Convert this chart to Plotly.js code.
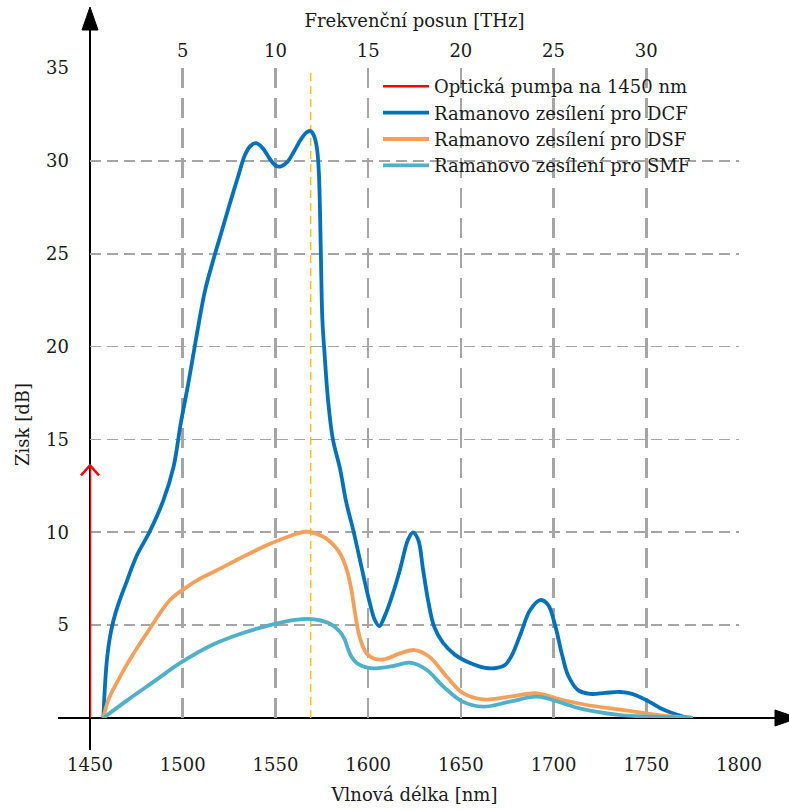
<!DOCTYPE html>
<html>
<head>
<meta charset="utf-8">
<script src="https://cdn.plot.ly/plotly-3.0.1.min.js"></script>
<style>html,body{margin:0;padding:0;background:#fff;}#chart{width:789px;height:811px;}</style>
</head>
<body>
<div id="chart"></div>
<script>
// ---- data ----
const dcfWl = [1457.2,1458,1459,1460.5,1462.5,1465.5,1470,1475,1482,1489.5,1495,1499,1503,1507,1512,1516.3,1521,1526,1530,1533.5,1536.5,1539.5,1543,1547,1550,1553,1556.5,1560,1564,1567,1569,1571,1572.5,1573.4,1574,1574.6,1575.3,1576.5,1578.4,1581,1585,1588,1592,1595.6,1600.5,1603.5,1606,1609,1613,1617.2,1621.5,1624.2,1627,1629.6,1632.3,1635.5,1640.4,1646.9,1655,1663,1669.5,1673.8,1677.6,1682,1687.3,1692.7,1697,1700.8,1704.6,1707.8,1713.2,1719.7,1727.8,1735.9,1742.3,1749.9,1757.4,1763.9,1770,1775];
const dcfGain = [0,1.6,3.0,4.2,5.2,6.2,7.4,8.7,10.0,11.7,13.5,15.9,18.0,20.3,23.0,24.6,26.2,27.9,29.2,30.3,30.8,30.95,30.7,30.1,29.75,29.7,29.95,30.5,31.2,31.55,31.6,31.3,30.6,29.4,27.5,24.5,21.5,19.6,17.1,15.0,13.35,11.7,10.1,8.5,6.35,5.3,4.95,5.5,6.6,8.0,9.6,10.0,9.6,8.0,6.35,4.95,4.04,3.4,2.96,2.7,2.7,2.85,3.4,4.47,5.8,6.35,6.1,5.0,3.4,2.3,1.5,1.3,1.35,1.4,1.3,0.97,0.54,0.27,0.08,0];

const dsfWl = [1457.2,1460,1465,1470,1480.6,1493.1,1500,1509.3,1517.4,1530.9,1544.4,1557.9,1566.5,1575.8,1581,1584.8,1588.4,1591,1593,1595.6,1599,1603,1608,1617.2,1625,1633,1642.4,1651,1662,1676.5,1691,1705,1718,1735.9,1750,1762,1775];
const dsfGain = [0,1.0,2.0,2.9,4.56,6.35,6.9,7.5,7.9,8.6,9.26,9.8,10.03,9.76,9.35,8.87,8.0,6.9,5.6,4.3,3.5,3.2,3.15,3.48,3.66,3.3,2.22,1.35,1.0,1.15,1.33,0.97,0.7,0.45,0.25,0.1,0];

const smfWl = [1457.2,1470,1485,1498.5,1515.8,1530.9,1547,1560.6,1568.7,1579,1584.8,1587.5,1589,1591,1594,1598,1602.7,1613.6,1622.5,1631.5,1640.6,1651,1662,1676.5,1691,1705.3,1714,1736,1753.7,1775];
const smfGain = [0,0.95,2.0,2.95,3.93,4.52,5.0,5.28,5.33,5.1,4.65,4.2,3.75,3.3,2.95,2.75,2.67,2.8,2.98,2.6,1.69,0.88,0.61,0.88,1.15,0.79,0.52,0.16,0.07,0];

const pumpWl = [1450, 1450];
const pumpGain = [0, 13.6];
const markerWl = 1569;            // dashed reference line

const wlTicks = [1450,1500,1550,1600,1650,1700,1750,1800];
const wlGrid = [1500,1550,1600,1650,1700,1750,1800];
const shiftTickPos = [1500,1550,1600,1650,1700,1750];
const shiftTickText = ['5','10','15','20','25','30'];
const gainTicks = [5,10,15,20,25,30,35];

const names = ['Optická pumpa na 1450 nm','Ramanovo zesílení pro DCF','Ramanovo zesílení pro DSF','Ramanovo zesílení pro SMF'];
const colors = ['#ff0000','#0072bd','#f5a05a','#4fb0ca'];

// ---- layout geometry helpers ----
const W = 789, H = 811, ML = 90, MR = 50, MT = 68, MB = 93;
const PW = W - ML - MR, PH = H - MT - MB;
const X = px => (px - ML) / PW;
const Y = py => (H - MB - py) / PH;

const FONT = '"DejaVu Serif", "Liberation Serif", serif';
const TXT = '#1a1a1a';

const spl = {shape: 'spline', smoothing: 1};
const traces = [
  {x: pumpWl, y: pumpGain, name: names[0], mode: 'lines', line: {color: colors[0], width: 2.5}, cliponaxis: false, hoverinfo: 'skip'},
  {x: dcfWl, y: dcfGain, name: names[1], mode: 'lines', line: Object.assign({color: colors[1], width: 3.8}, spl), hoverinfo: 'skip'},
  {x: dsfWl, y: dsfGain, name: names[2], mode: 'lines', line: Object.assign({color: colors[2], width: 3.8}, spl), hoverinfo: 'skip'},
  {x: smfWl, y: smfGain, name: names[3], mode: 'lines', line: Object.assign({color: colors[3], width: 3.8}, spl), hoverinfo: 'skip'},
  {x: [shiftTickPos[0]], y: [0], xaxis: 'x2', mode: 'none', showlegend: false, hoverinfo: 'skip'}
];

const shapes = [
  {type: 'line', xref: 'paper', yref: 'paper', x0: X(58), x1: X(780), y0: 0, y1: 0, line: {color: '#000', width: 2}, layer: 'below'},
  {type: 'path', xref: 'paper', yref: 'paper', path: `M${X(775)},${Y(710)} L${X(798)},${Y(718)} L${X(775)},${Y(726)} Z`, fillcolor: '#000', line: {color: '#000', width: 1}, layer: 'below'},
  {type: 'line', xref: 'paper', yref: 'paper', x0: 0, x1: 0, y0: Y(750), y1: Y(25), line: {color: '#000', width: 2}, layer: 'below'},
  {type: 'path', xref: 'paper', yref: 'paper', path: `M${X(82)},${Y(30)} L${X(90)},${Y(7)} L${X(98)},${Y(30)} Z`, fillcolor: '#000', line: {color: '#000', width: 1}, layer: 'below'},
  {type: 'line', xref: 'x', yref: 'y', x0: markerWl, x1: markerWl, y0: 0, y1: 35, line: {color: '#fdc010', width: 1.5, dash: '8px,5px'}, layer: 'below'},
  {type: 'path', xref: 'paper', yref: 'paper', xsizemode: 'pixel', ysizemode: 'pixel', xanchor: 0, yanchor: pumpGain[1] / 35,
   path: 'M-9,-10 L0,0 L9,-10', line: {color: colors[0], width: 2.5}, layer: 'above'}
];

const layout = {
  width: W, height: H,
  margin: {l: ML, r: MR, t: MT, b: MB},
  paper_bgcolor: '#fff', plot_bgcolor: '#fff',
  font: {family: FONT, size: 18, color: TXT},
  showlegend: true,
  legend: {x: X(378), y: Y(68), xanchor: 'left', yanchor: 'top', bgcolor: 'rgba(0,0,0,0)', borderwidth: 0,
           font: {family: FONT, size: 18, color: TXT}, itemwidth: 46, tracegroupgap: 0},
  xaxis: {
    range: [1450, 1800], tickmode: 'array', tickvals: wlTicks, ticktext: wlTicks.map(String),
    showgrid: false, zeroline: false, showline: false, ticks: '', ticklabelstandoff: 34,
    tickfont: {family: FONT, size: 18, color: TXT},
    minor: {tickmode: 'array', tickvals: wlGrid, showgrid: true, gridcolor: '#a5a5a5', gridwidth: 2.5, griddash: '20px,10px', ticks: ''},
    title: {text: 'Vlnová délka [nm]', font: {family: FONT, size: 18, color: TXT}, standoff: 14},
    fixedrange: true
  },
  xaxis2: {
    overlaying: 'x', side: 'top', anchor: 'y', range: [1450, 1800], tickmode: 'array',
    tickvals: shiftTickPos, ticktext: shiftTickText, showgrid: false, zeroline: false, showline: false,
    ticks: '', ticklabelstandoff: 6, tickfont: {family: FONT, size: 18, color: TXT},
    title: {text: 'Frekvenční posun [THz]', font: {family: FONT, size: 18, color: TXT}, standoff: 8},
    fixedrange: true
  },
  yaxis: {
    range: [0, 35], tickmode: 'array', tickvals: gainTicks, ticktext: gainTicks.map(String),
    showgrid: true, gridcolor: '#a5a5a5', gridwidth: 1.6, griddash: '11px,6px',
    zeroline: false, showline: false, ticks: '', ticklabelstandoff: 20,
    tickfont: {family: FONT, size: 18, color: TXT}, fixedrange: true
  },
  annotations: [
    {text: 'Zisk [dB]', xref: 'paper', yref: 'paper', x: X(22), y: Y(425), showarrow: false, textangle: -90,
     font: {family: FONT, size: 18, color: TXT}, xanchor: 'center', yanchor: 'middle'}
  ],
  shapes: shapes
};

Plotly.newPlot('chart', traces, layout, {displayModeBar: false, staticPlot: true});
</script>
</body>
</html>
